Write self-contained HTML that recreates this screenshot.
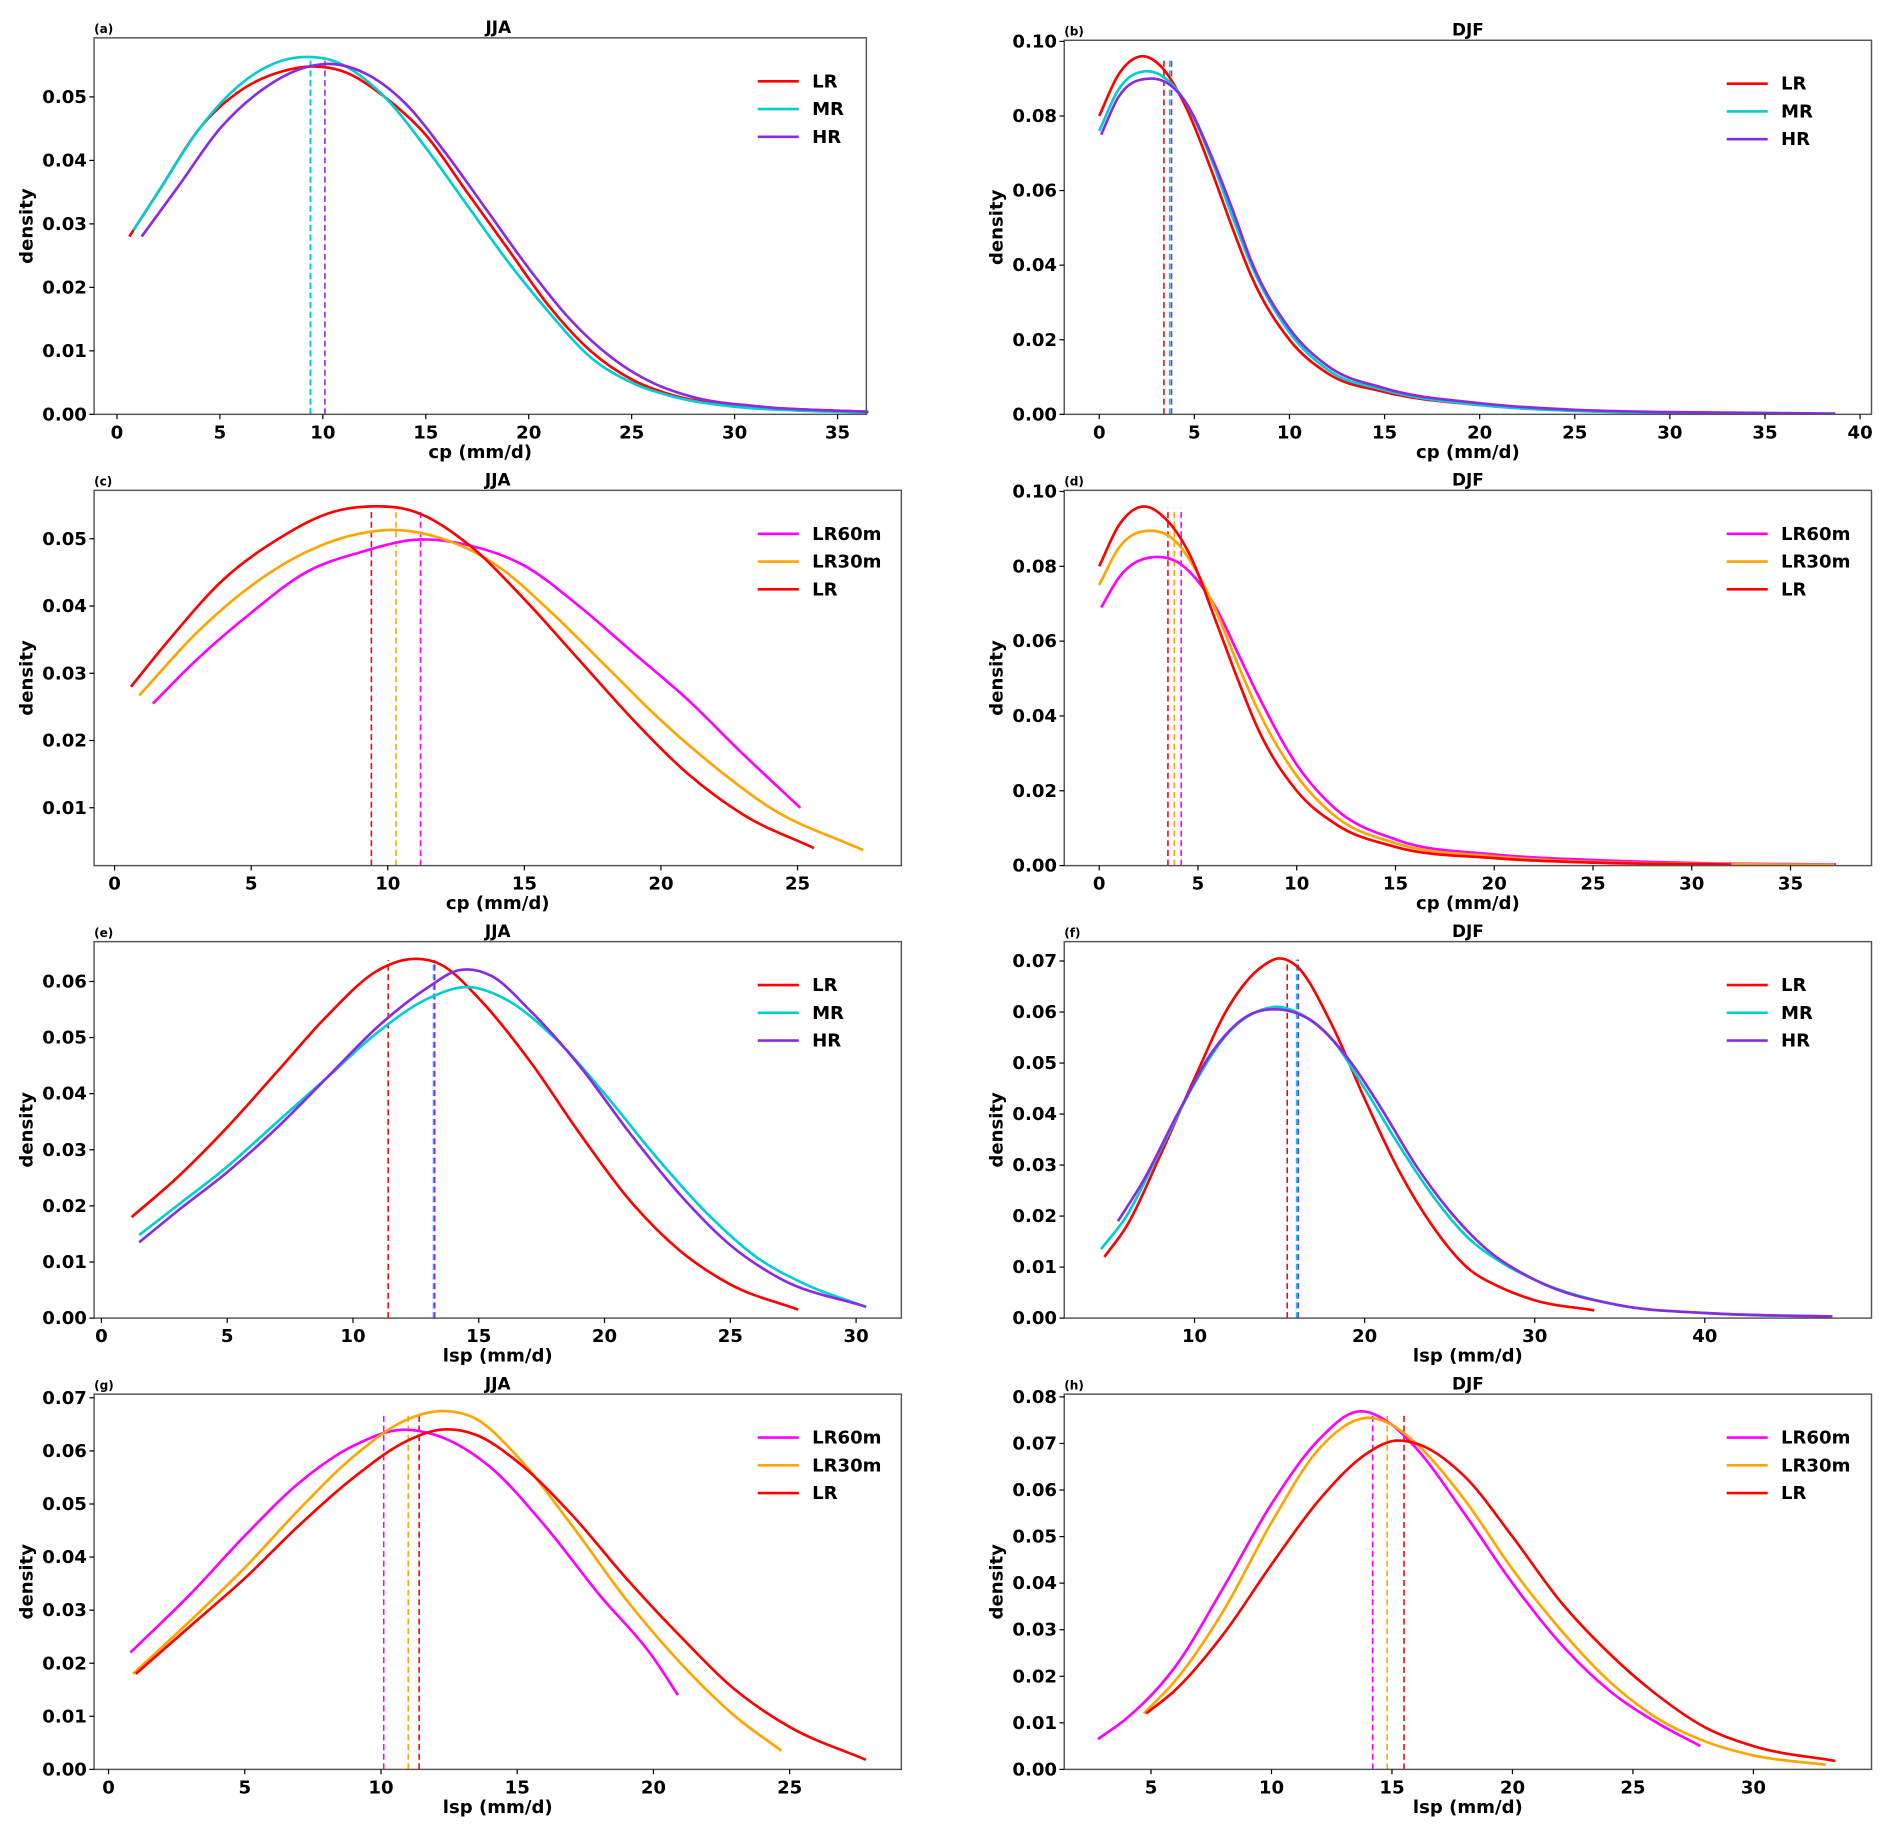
<!DOCTYPE html>
<html><head><meta charset="utf-8"><style>
html,body{margin:0;padding:0;background:#fff}
svg{display:block}
text{font-family:"DejaVu Sans","Liberation Sans",sans-serif;font-weight:bold;fill:#000}
</style></head><body>
<svg id="fig" xmlns="http://www.w3.org/2000/svg" width="1892" height="1835" viewBox="0 0 1568 1520"></svg>
<script>
const aLRx=[0.6,2,4,6,8,9.5,11,13,15,17,19,21,23,25,27,30,33,36.5];
const aLRy=[0.028,0.035,0.045,0.051,0.054,0.0548,0.054,0.050,0.044,0.035,0.026,0.017,0.010,0.0055,0.003,0.0014,0.0008,0.0004];
const aMRx=[0.8,2,4,6,8,9.2,10.5,13,15,17,19,21,23,25,27,30,33,36.5];
const aMRy=[0.029,0.035,0.045,0.052,0.0557,0.0563,0.0557,0.050,0.042,0.033,0.024,0.016,0.009,0.005,0.0028,0.0012,0.0006,0.0003];
const aHRx=[1.2,3,5,7,9,10.2,12,14,16,18,20,22,24,26,28,31,36.5];
const aHRy=[0.028,0.036,0.045,0.051,0.0545,0.0552,0.0538,0.049,0.041,0.032,0.023,0.015,0.009,0.005,0.0027,0.0013,0.0004];
const aMeans=[9.4,9.4,10.1];

const bLRx=[0,1,2.2,3.3,4.5,6,7,8,10,12,15,20,25,30,37];
const bLRy=[0.080,0.091,0.096,0.093,0.083,0.064,0.050,0.037,0.020,0.011,0.006,0.0025,0.001,0.0005,0.0002];
const bMRx=[0,1,2.5,3.5,4.5,6,7,8,10,12,15,20,25,30,36.5];
const bMRy=[0.076,0.087,0.092,0.090,0.084,0.067,0.053,0.040,0.022,0.012,0.0065,0.0025,0.0009,0.0004,0.0002];
const bHRx=[0.1,1,2.6,3.8,4.5,6,7,8,10,12,15,20,25,30,38.7];
const bHRy=[0.075,0.085,0.090,0.088,0.084,0.068,0.055,0.041,0.023,0.013,0.007,0.003,0.0012,0.0006,0.0002];
const bMeans=[3.4,3.7,3.8];

const cLRx=[0.6,2,4,6,8,9.3,11,13,15,17,19,21,23,25.6];
const cLRy=[0.028,0.035,0.044,0.050,0.054,0.0548,0.054,0.049,0.041,0.032,0.023,0.015,0.009,0.004];
const cL30x=[0.9,3,5,7,9,10.3,12,14,16,18,20,22,24,27.4];
const cL30y=[0.0267,0.036,0.043,0.048,0.0508,0.0513,0.050,0.046,0.039,0.031,0.023,0.016,0.010,0.0037];
const cL60x=[1.4,3,5,7,9,11.2,13,15,17,19,21,23,25.1];
const cL60y=[0.0255,0.032,0.039,0.045,0.048,0.0499,0.049,0.046,0.040,0.033,0.026,0.018,0.010];
const cMeans=[11.2,10.3,9.4];

const dLRx=[0,1,2.3,3.3,4.5,6,7,8,10,12,15,20,25,30,32];
const dLRy=[0.080,0.091,0.096,0.093,0.084,0.064,0.050,0.037,0.020,0.011,0.005,0.002,0.0008,0.0004,0.0003];
const dL30x=[0,1,2.6,3.8,5,6,7,8,10,12,15,20,25,30,37.2];
const dL30y=[0.075,0.085,0.0895,0.087,0.078,0.067,0.054,0.042,0.024,0.013,0.006,0.0025,0.001,0.0005,0.0002];
const dL60x=[0.1,1,2.9,4,5,6,7,8,10,12,15,20,25,30,37.3];
const dL60y=[0.069,0.077,0.0825,0.081,0.076,0.068,0.057,0.046,0.027,0.015,0.007,0.003,0.0015,0.0007,0.0003];
const dMeans=[4.15,3.8,3.48];

const eLRx=[1.2,3,5,7,9,11,12.3,13.5,15,17,19,21,23,25,27.7];
const eLRy=[0.018,0.025,0.034,0.044,0.054,0.062,0.064,0.063,0.057,0.046,0.033,0.021,0.012,0.006,0.0015];
const eMRx=[1.5,3,5,7,9,11,13,14.6,16,18,20,22,24,26,28,30.4];
const eMRy=[0.0148,0.020,0.027,0.035,0.043,0.051,0.057,0.059,0.057,0.050,0.040,0.029,0.019,0.011,0.006,0.002];
const eHRx=[1.5,3,5,7,9,11,13,14.2,15.5,17,19,21,23,25,27,30.4];
const eHRy=[0.0135,0.019,0.026,0.034,0.043,0.052,0.059,0.062,0.061,0.055,0.045,0.033,0.022,0.013,0.007,0.002];
const eMeans=[11.4,13.2,13.25];

const fLRx=[4.7,6,8,10,12,14,15,16,18,20,22,24,26,28,30,33.5];
const fLRy=[0.012,0.018,0.032,0.047,0.061,0.069,0.0705,0.069,0.058,0.043,0.029,0.018,0.010,0.006,0.0035,0.0015];
const fMRx=[4.5,6,8,10,12,14,15,16,18,20,22,24,26,28,30,35,40,47.5];
const fMRy=[0.0135,0.020,0.033,0.046,0.056,0.0605,0.061,0.060,0.055,0.045,0.034,0.024,0.016,0.011,0.0075,0.0025,0.001,0.0003];
const fHRx=[5.5,7,9,11,13,15,17,19,21,23,25,27,30,35,40,47.5];
const fHRy=[0.019,0.027,0.040,0.052,0.059,0.0605,0.058,0.051,0.041,0.030,0.021,0.014,0.0075,0.0025,0.001,0.0003];
const fMeans=[15.45,16.0,16.1];

const gL60x=[0.8,3,5,7,9,10.8,12,14,16,18,20,20.9];
const gL60y=[0.022,0.033,0.044,0.054,0.061,0.064,0.063,0.057,0.046,0.033,0.021,0.014];
const gL30x=[0.9,3,5,7,9,11,12.2,13.5,15,17,19,21,23,24.7];
const gL30y=[0.018,0.028,0.038,0.049,0.059,0.066,0.0675,0.066,0.059,0.046,0.032,0.020,0.010,0.0035];
const gLRx=[1,3,5,7,9,11,12.2,13.5,15,17,19,21,23,25,27.8];
const gLRy=[0.018,0.027,0.036,0.046,0.055,0.062,0.064,0.063,0.058,0.048,0.036,0.025,0.015,0.008,0.0018];
const gMeans=[10.1,11.0,11.4];

const hL60x=[2.8,4,6,8,10,12,13.5,15,16,18,20,22,24,26,27.8];
const hL60y=[0.0065,0.011,0.022,0.039,0.057,0.071,0.0768,0.074,0.069,0.055,0.040,0.027,0.017,0.010,0.005];
const hL30x=[4.7,6,8,10,12,14,15,16,18,20,22,24,26,28,30,33];
const hL30y=[0.012,0.019,0.034,0.053,0.069,0.0755,0.074,0.070,0.058,0.043,0.030,0.019,0.011,0.006,0.003,0.001];
const hLRx=[4.8,6,8,10,12,14,15,16,18,20,22,24,26,28,30,33.4];
const hLRy=[0.012,0.017,0.029,0.044,0.058,0.068,0.0705,0.070,0.063,0.050,0.036,0.025,0.016,0.009,0.005,0.0018];
const hMeans=[14.2,14.8,15.5];

const C={LR:'#ff0000',MR:'#00ced1',HR:'#8a2be2',LR60m:'#ff00ff',LR30m:'#ffa500'};
const NS='http://www.w3.org/2000/svg';
const svg=document.getElementById('fig');
function mk(tag,attrs,parent){const e=document.createElementNS(NS,tag);for(const k in attrs)e.setAttribute(k,attrs[k]);(parent||svg).appendChild(e);return e;}

const panels=[
 {tag:'a',title:'JJA',box:[78,31,718,343],titleX:413,xd:[-1.11,36.4],yd:[0,0.0593],xt:[0,5,10,15,20,25,30,35],yt:[0,0.01,0.02,0.03,0.04,0.05],xl:'cp (mm/d)',dashTop:0.0563,
  s:[['LR',aLRx,aLRy],['MR',aMRx,aMRy],['HR',aHRx,aHRy]],means:aMeans,leg:['LR','MR','HR']},
 {tag:'b',title:'DJF',box:[882,33,1551,343],xd:[-1.84,40.6],yd:[0,0.1003],xt:[0,5,10,15,20,25,30,35,40],yt:[0,0.02,0.04,0.06,0.08,0.10],xl:'cp (mm/d)',dashTop:0.0955,
  s:[['LR',bLRx,bLRy],['MR',bMRx,bMRy],['HR',bHRx,bHRy]],means:bMeans,leg:['LR','MR','HR']},
 {tag:'c',title:'JJA',box:[78,406,747,717],xd:[-0.75,28.8],yd:[0.0014,0.0572],xt:[0,5,10,15,20,25],yt:[0.01,0.02,0.03,0.04,0.05],xl:'cp (mm/d)',dashTop:0.0545,
  s:[['LR60m',cL60x,cL60y],['LR30m',cL30x,cL30y],['LR',cLRx,cLRy]],means:cMeans,leg:['LR60m','LR30m','LR']},
 {tag:'d',title:'DJF',box:[882,406,1551,717],xd:[-1.77,39.1],yd:[0,0.1003],xt:[0,5,10,15,20,25,30,35],yt:[0,0.02,0.04,0.06,0.08,0.10],xl:'cp (mm/d)',dashTop:0.0955,
  s:[['LR60m',dL60x,dL60y],['LR30m',dL30x,dL30y],['LR',dLRx,dLRy]],means:dMeans,leg:['LR60m','LR30m','LR']},
 {tag:'e',title:'JJA',box:[78,780,747,1092],xd:[-0.29,31.8],yd:[0,0.0671],xt:[0,5,10,15,20,25,30],yt:[0,0.01,0.02,0.03,0.04,0.05,0.06],xl:'lsp (mm/d)',dashTop:0.0638,
  s:[['LR',eLRx,eLRy],['MR',eMRx,eMRy],['HR',eHRx,eHRy]],means:eMeans,leg:['LR','MR','HR']},
 {tag:'f',title:'DJF',box:[882,780,1551,1092],xd:[2.34,49.8],yd:[0,0.0738],xt:[10,20,30,40],yt:[0,0.01,0.02,0.03,0.04,0.05,0.06,0.07],xl:'lsp (mm/d)',dashTop:0.0703,
  s:[['LR',fLRx,fLRy],['MR',fMRx,fMRy],['HR',fHRx,fHRy]],means:fMeans,leg:['LR','MR','HR']},
 {tag:'g',title:'JJA',box:[78,1155,747,1466],xd:[-0.53,29.1],yd:[0,0.0707],xt:[0,5,10,15,20,25],yt:[0,0.01,0.02,0.03,0.04,0.05,0.06,0.07],xl:'lsp (mm/d)',dashTop:0.0673,
  s:[['LR60m',gL60x,gL60y],['LR30m',gL30x,gL30y],['LR',gLRx,gLRy]],means:gMeans,leg:['LR60m','LR30m','LR']},
 {tag:'h',title:'DJF',box:[882,1155,1551,1466],xd:[1.4,34.9],yd:[0,0.0806],xt:[5,10,15,20,25,30],yt:[0,0.01,0.02,0.03,0.04,0.05,0.06,0.07,0.08],xl:'lsp (mm/d)',dashTop:0.0762,
  s:[['LR60m',hL60x,hL60y],['LR30m',hL30x,hL30y],['LR',hLRx,hLRy]],means:hMeans,leg:['LR60m','LR30m','LR']}
];

function spline(pts){
  const n=pts.length,h=[],s=[],m=[];
  for(let i=0;i<n-1;i++){h[i]=pts[i+1][0]-pts[i][0];s[i]=(pts[i+1][1]-pts[i][1])/h[i];}
  m[0]=s[0];m[n-1]=s[n-2];
  for(let i=1;i<n-1;i++){m[i]=(s[i-1]*h[i]+s[i]*h[i-1])/(h[i-1]+h[i]);}
  let d='M'+pts[0][0].toFixed(2)+','+pts[0][1].toFixed(2);
  for(let i=0;i<n-1;i++){
    const p1=pts[i],p2=pts[i+1],k=h[i]/3;
    d+=' C'+(p1[0]+k).toFixed(2)+','+(p1[1]+m[i]*k).toFixed(2)+' '+(p2[0]-k).toFixed(2)+','+(p2[1]-m[i+1]*k).toFixed(2)+' '+p2[0].toFixed(2)+','+p2[1].toFixed(2);
  }
  return d;
}

panels.forEach(p=>{
  const [x0,y0,x1,y1]=p.box;
  const X=v=>x0+(v-p.xd[0])/(p.xd[1]-p.xd[0])*(x1-x0);
  const Y=v=>y1-(v-p.yd[0])/(p.yd[1]-p.yd[0])*(y1-y0);
  const g=mk('g',{});
  
  
  p.means.forEach((m,i)=>{
    const l=mk('line',{x1:X(m),x2:X(m),y1:Y(p.yd[0]),y2:Y(p.dashTop),stroke:C[p.s[i][0]],'stroke-width':1.3,'stroke-dasharray':'5,3'},g);
    
    
  });
  p.s.forEach(([nm,xs,ys])=>{
    const pts=xs.map((v,i)=>[X(v),Y(ys[i])]);
    const path=mk('path',{d:spline(pts),fill:'none',stroke:C[nm],'stroke-width':2.2},g);
    
    
  });
  const r=mk('rect',{x:x0,y:y0,width:x1-x0,height:y1-y0,fill:'none',stroke:'#555','stroke-width':1.2},g);
  
  
  p.xt.forEach(v=>{
    const x=X(v);
    mk('line',{x1:x,x2:x,y1:y1,y2:y1+4,stroke:'#000','stroke-width':1},g);
    const t=mk('text',{x:x,y:y1+20,'text-anchor':'middle','font-size':15},g);
    t.textContent=v;
    
    
  });
  p.yt.forEach(v=>{
    const y=Y(v);
    mk('line',{x1:x0-4,x2:x0,y1:y,y2:y,stroke:'#000','stroke-width':1},g);
    const t=mk('text',{x:x0-6,y:y+5,'text-anchor':'end','font-size':15},g);
    t.textContent=v.toFixed(2);
    
    
  });
  const cx=p.titleX||(x0+x1)/2;
  const xl=mk('text',{x:(x0+x1)/2,y:y1+36,'text-anchor':'middle','font-size':15},g);
  xl.textContent=p.xl;
  
  
  const ylx=x0<400?27:831;
  const yl=mk('text',{x:ylx,y:(y0+y1)/2,'text-anchor':'middle','font-size':15,transform:'rotate(-90 '+ylx+' '+((y0+y1)/2)+')'},g);
  yl.textContent='density';
  
  
  const tt=mk('text',{x:cx,y:y0-4,'text-anchor':'middle','font-size':14},g);
  tt.textContent=p.title;
  
  
  const tg=mk('text',{x:x0,y:y0-4,'font-size':10},g);
  tg.textContent='('+p.tag+')';
  
  
  const lx=x0<400?628:1431;
  p.leg.forEach((nm,i)=>{
    const ly=y0+36+i*23;
    const ll=mk('line',{x1:lx,x2:lx+34,y1:ly,y2:ly,stroke:C[nm],'stroke-width':2.2},g);
    
    
    const lt=mk('text',{x:lx+45,y:ly+5,'font-size':15},g);
    lt.textContent=nm;
    
    
  });
});
</script>
</body></html>
